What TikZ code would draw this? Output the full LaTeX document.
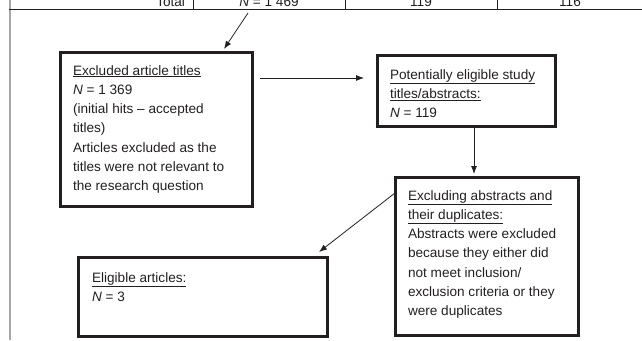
\documentclass[tikz,border=0pt]{standalone}
\usepackage{fontspec}
\setmainfont{Liberation Sans}
\usetikzlibrary{arrows.meta,calc}
\definecolor{ink}{HTML}{231F20}
\begin{document}
\begin{tikzpicture}[x=1pt,y=-1pt,
  box/.style={draw=ink, line width=3pt, rectangle, inner sep=0pt, outer sep=0pt, anchor=north west},
  txt/.style={anchor=north west, inner sep=0pt, outer sep=0pt, align=left, text=ink, font=\fontsize{13.6}{19.3}\selectfont},
  cell/.style={inner sep=0pt, outer sep=0pt, text=ink, font=\fontsize{13.6}{19.3}\selectfont},
  arr/.style={draw=ink, line width=0.8pt, -{Latex[length=8pt,width=6pt]}},
  rule/.style={draw=ink, line width=1pt}]
\useasboundingbox (0,0) rectangle (642,340);

% table fragment at top
\draw[gray!70, line width=2pt] (9.5,0) -- (9.5,340);
\draw[rule] (9,9) -- (642,9);
\draw[rule, line width=0.8pt] (193,0) -- (193,9);
\draw[rule, line width=0.8pt] (345,0) -- (345,9);
\draw[rule, line width=0.8pt] (497,0) -- (497,9);
\node[cell, anchor=base east] (total) at (185,6) {Total};
\node[cell, anchor=base] (cellN) at (269,6) {\textit{N} = 1 469};
\node[cell, anchor=base] (c119) at (421,6) {119};
\node[cell, anchor=base] (c116) at (570,6) {116};

% boxes
\node[box, minimum width=192pt, minimum height=154pt] (b1) at (60,52) {};
\node[box, minimum width=178pt, minimum height=71pt] (b2) at (377,55) {};
\node[box, minimum width=183pt, minimum height=158pt] (b3) at (395,177) {};
\node[box, minimum width=249pt, minimum height=79pt] (b4) at (78,257) {};

% texts
\node[txt] (t1) at ($(b1.north west)+(13,13)$) {\rule{0pt}{10pt}\underline{Excluded article titles}\\
\textit{N} = 1 369\\
(initial hits -- accepted\\
titles)\\
Articles excluded as the\\
titles were not relevant to\\
the research question};
\node[txt] (t2) at ($(b2.north west)+(13,14)$) {\rule{0pt}{10pt}\underline{Potentially eligible study}\\
\underline{titles/abstracts:}\\
\textit{N} = 119};
\node[txt] (t3) at ($(b3.north west)+(13,13)$) {\rule{0pt}{10pt}\underline{Excluding abstracts and}\\
\underline{their duplicates:}\\
Abstracts were excluded\\
because they either did\\
not meet inclusion/\\
exclusion criteria or they\\
were duplicates};
\node[txt] (t4) at ($(b4.north west)+(14,15)$) {\rule{0pt}{10pt}\underline{Eligible articles:}\\
\textit{N} = 3};

% connectors
\coordinate (s1) at ($(cellN.base)+(-21,7)$);
\draw[arr] (s1) -- ($(b1.north west)+(164,-3)$);
\draw[arr] ($(b1.north east)+(8,26)$) -- ($(b2.north west)+(-13,23)$);
\draw[arr] ($(b2.south west)+(97,0)$) -- ($(b3.north west)+(79,-3)$);
\draw[arr] ($(b3.north west)+(0,16)$) -- ($(b4.north east)+(-8,-5)$);
\end{tikzpicture}
\end{document}
